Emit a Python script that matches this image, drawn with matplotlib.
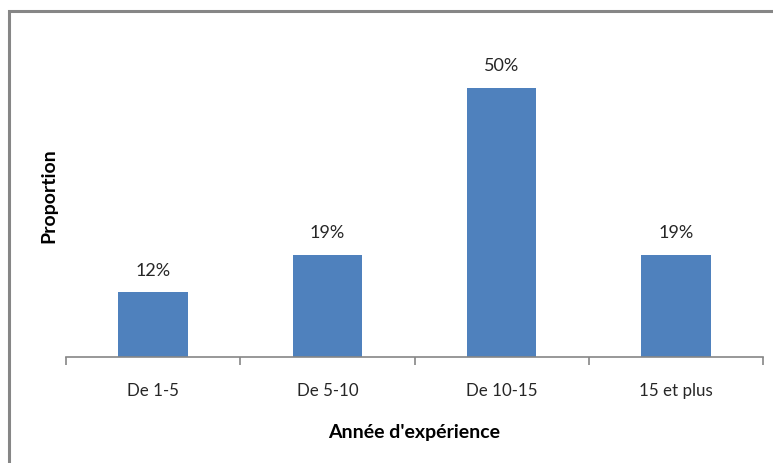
import matplotlib
matplotlib.use("Agg")
import matplotlib.pyplot as plt
from matplotlib.patches import Rectangle

categories = ["De 1-5", "De 5-10", "De 10-15", "15 et plus"]
proportions = [0.12, 0.19, 0.50, 0.19]
value_labels = ["12%", "19%", "50%", "19%"]

plt.rcParams['font.family'] = ['Lato', 'DejaVu Sans']

fig = plt.figure(figsize=(7.73, 4.63), dpi=100)
ax = fig.add_axes([66 / 773, 1 - 357 / 463, (763 - 66) / 773, (357 - 34) / 463])

bar_color = "#4F81BD"
axis_color = "#868686"
text_color = "#262626"

x = list(range(len(categories)))
ax.bar(x, proportions, width=0.4, color=bar_color)
for xi, v, lab in zip(x, proportions, value_labels):
    ax.text(xi, v + 0.025, lab, ha="center", va="bottom", fontsize=13, color=text_color)

ax.set_xlim(-0.5, len(categories) - 0.5)
ax.set_ylim(0, 0.6)

for side in ("top", "right", "left"):
    ax.spines[side].set_visible(False)
ax.spines["bottom"].set_color(axis_color)
ax.spines["bottom"].set_linewidth(1.2)

ax.set_yticks([])
ax.set_xticks(x)
ax.set_xticklabels(categories, fontsize=12.2, color=text_color)
ax.tick_params(axis="x", length=0, pad=19)
ax.set_xticks([i - 0.5 for i in range(len(categories) + 1)], minor=True)
ax.tick_params(axis="x", which="minor", length=6, color=axis_color, width=1.2, direction="out")

ax.set_xlabel("Année d'expérience", fontsize=14, fontweight="bold", labelpad=18)
ax.set_ylabel("Proportion", fontsize=14, fontweight="bold", labelpad=6)

# chart frame
frame = Rectangle((9 / 773, -0.05), 1.0, 1 - 11 / 463 + 0.05, transform=fig.transFigure,
                  fill=False, edgecolor=axis_color, linewidth=2.2)
fig.patches.append(frame)

fig.savefig("out.png", dpi=100)
